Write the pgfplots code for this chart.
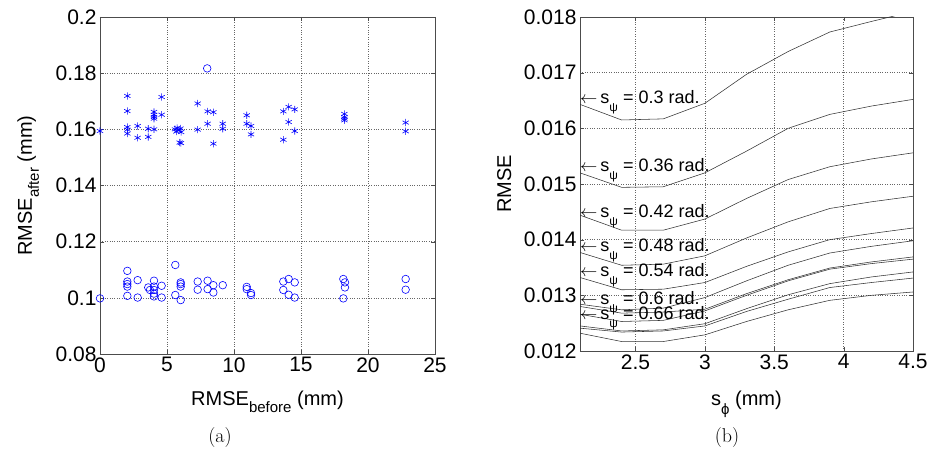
\documentclass[border=0pt]{standalone}
\usepackage{pgfplots}
\pgfplotsset{compat=1.18}
\usepackage{pgfplotstable}
\usepackage{fontspec}
\newfontfamily\arialf{Liberation Sans}

% RMSE over s_phi, one column per s_psi
\pgfplotstableread{
x    c1      c2      c3      c4      c5      c6      c7      c8      c9      c10     c11
2.1  0.01643 0.01520 0.01444 0.01377 0.01332 0.01284 0.01280 0.01266 0.01245 0.01241 0.01232
2.4  0.01615 0.01494 0.01417 0.01354 0.01310 0.01274 0.01268 0.01253 0.01236 0.01234 0.01217
2.7  0.01617 0.01495 0.01417 0.01356 0.01311 0.01277 0.01270 0.01255 0.01238 0.01236 0.01217
3.0  0.01645 0.01520 0.01437 0.01371 0.01323 0.01296 0.01275 0.01272 0.01249 0.01245 0.01229
3.3  0.01697 0.01559 0.01474 0.01403 0.01352 0.01326 0.01303 0.01300 0.01276 0.01271 0.01253
3.6  0.01738 0.01600 0.01508 0.01432 0.01378 0.01354 0.01328 0.01326 0.01301 0.01293 0.01274
3.9  0.01773 0.01625 0.01531 0.01456 0.01400 0.01376 0.01349 0.01347 0.01321 0.01314 0.01291
4.2  0.01792 0.01640 0.01545 0.01468 0.01411 0.01388 0.01360 0.01357 0.01333 0.01323 0.01300
4.5  0.01810 0.01652 0.01556 0.01478 0.01421 0.01398 0.01369 0.01365 0.01342 0.01331 0.01306
}\curves

\pgfplotsset{
  matlab/.style={
    scale only axis,
    axis line style={black!70, line width=0.6pt},
    grid=major,
    major grid style={dotted, black!60, line width=0.5pt},
    tick style={black!70},
    major tick length=4pt,
    tick align=inside,
    xtick pos=both, ytick pos=both,
    tick label style={font=\arialf\fontsize{21}{21}\selectfont},
    label style={font=\arialf\fontsize{20}{20}\selectfont},
    /pgf/number format/assume math mode=true,
    /pgf/number format/fixed,
    scaled ticks=false,
  },
}

\newcommand{\spsi}[1]{%
  {\arialf\fontsize{18}{18}\selectfont $\leftarrow$\,s\raisebox{-8pt}{\fontsize{12}{12}\selectfont ψ} = #1 rad.}}

\begin{document}
\begin{tikzpicture}
\useasboundingbox (0,0) rectangle (934pt,457pt);

\begin{axis}[
  matlab,
  at={(100pt,103pt)}, anchor=south west,
  width=335pt, height=337pt,
  xmin=0, xmax=25, ymin=0.08, ymax=0.2,
  xtick={0,5,...,25},
  ytick={0.08,0.1,0.12,0.14,0.16,0.18,0.2},
  /pgf/number format/precision=2,
  clip=false,
  xlabel={RMSE\raisebox{-7pt}{\fontsize{15}{15}\selectfont before} (mm)},
  xlabel style={at={(axis description cs:0.5,0)}, anchor=base, yshift=-52pt},
  ylabel={RMSE\raisebox{-7pt}{\fontsize{15}{15}\selectfont after} (mm)},
  ylabel style={at={(axis description cs:-0.203,0.5)}, anchor=base},
]
\addplot[only marks, mark=asterisk, mark size=3.6pt, blue, mark options={line width=0.6pt}]
coordinates {
(0,0.1594)
(2.04,0.1719) (2.04,0.1665) (2.04,0.1608) (2.04,0.1599) (2.04,0.1585)
(2.81,0.1612) (2.81,0.1570)
(3.6,0.1602) (3.6,0.1573)
(4.03,0.1662) (4.03,0.1652) (4.03,0.1644) (4.03,0.1638) (4.03,0.1600)
(4.6,0.1715) (4.6,0.1652)
(5.6,0.1600) (5.75,0.1605) (5.9,0.1597) (6.0,0.1603) (6.05,0.1590) (5.7,0.1592)
(6.04,0.1551) (5.95,0.1553)
(7.29,0.1692) (7.29,0.1599)
(8.03,0.1664) (8.46,0.1661) (8.03,0.1620) (8.46,0.1549)
(9.16,0.1620) (9.16,0.1602)
(10.95,0.1650) (10.95,0.1620) (11.27,0.1612) (11.27,0.1582)
(13.68,0.1664) (14.08,0.1680) (14.53,0.1671) (14.08,0.1626) (14.53,0.1594) (13.68,0.1563)
(18.24,0.1655) (18.24,0.1644) (18.24,0.1638) (18.24,0.1632)
(22.81,0.1624) (22.81,0.1593)
};
\addplot[only marks, mark=o, mark size=3.8pt, blue, mark options={line width=0.6pt}]
coordinates {
(0,0.0998)
(2.04,0.1096) (2.04,0.1058) (2.04,0.1049) (2.04,0.1040) (2.04,0.1007)
(2.81,0.1063) (2.81,0.1001)
(3.6,0.1037) (3.73,0.1028)
(4.03,0.1061) (4.03,0.1040) (4.03,0.1028) (4.03,0.1015) (4.03,0.1005)
(4.6,0.1043) (4.6,0.1001)
(5.62,0.1117) (5.62,0.1010)
(6.02,0.1055) (6.02,0.1049) (6.02,0.1040) (6.02,0.0992)
(7.29,0.1058) (7.29,0.1029)
(8.03,0.1061) (8.03,0.1031)
(8.46,0.1045) (8.46,0.1019)
(9.16,0.1045)
(10.95,0.1039) (10.95,0.1031)
(11.27,0.1017) (11.27,0.1010)
(13.68,0.1058) (14.08,0.1067) (14.53,0.1055) (13.68,0.1028) (14.08,0.1011) (14.53,0.1001)
(18.16,0.1067) (18.28,0.1055) (18.28,0.1037) (18.16,0.0998)
(22.81,0.1067) (22.81,0.1029)
(8.0,0.1817)
};
\end{axis}

\begin{axis}[
  matlab,
  at={(580pt,106pt)}, anchor=south west,
  width=333pt, height=334pt,
  xmin=2.1, xmax=4.5, ymin=0.012, ymax=0.018,
  xtick={2.5,3,3.5,4,4.5},
  ytick={0.012,0.013,...,0.018},
  /pgf/number format/precision=3,
  xlabel={s\raisebox{-9pt}{\fontsize{15}{15}\selectfont ϕ} (mm)},
  xlabel style={at={(axis description cs:0.5,0)}, anchor=base, yshift=-55pt},
  ylabel={RMSE},
  ylabel style={at={(axis description cs:-0.207,0.5)}, anchor=base},
]
\foreach \c in {c1,c2,c3,c4,c5,c6,c7,c8,c9,c10,c11}{
  \addplot[black!80, line width=0.55pt] table[x=x, y=\c] {\curves};
}
\node[anchor=base west, inner sep=0pt, yshift=-6pt] at (axis cs:2.1,0.01655) {\spsi{0.3}};
\node[anchor=base west, inner sep=0pt, yshift=-6pt] at (axis cs:2.1,0.01533) {\spsi{0.36}};
\node[anchor=base west, inner sep=0pt, yshift=-6pt] at (axis cs:2.1,0.01451) {\spsi{0.42}};
\node[anchor=base west, inner sep=0pt, yshift=-6pt] at (axis cs:2.1,0.01389) {\spsi{0.48}};
\node[anchor=base west, inner sep=0pt, yshift=-6pt] at (axis cs:2.1,0.01344) {\spsi{0.54}};
\node[anchor=base west, inner sep=0pt, yshift=-6pt] at (axis cs:2.1,0.01295) {\spsi{0.6}};
\node[anchor=base west, inner sep=0pt, yshift=-6pt] at (axis cs:2.1,0.01268) {\spsi{0.66}};
\end{axis}

\node[font=\fontsize{20}{24}\selectfont] at (220pt,19pt) {(a)};
\node[font=\fontsize{20}{24}\selectfont] at (727pt,19pt) {(b)};
\end{tikzpicture}
\end{document}
